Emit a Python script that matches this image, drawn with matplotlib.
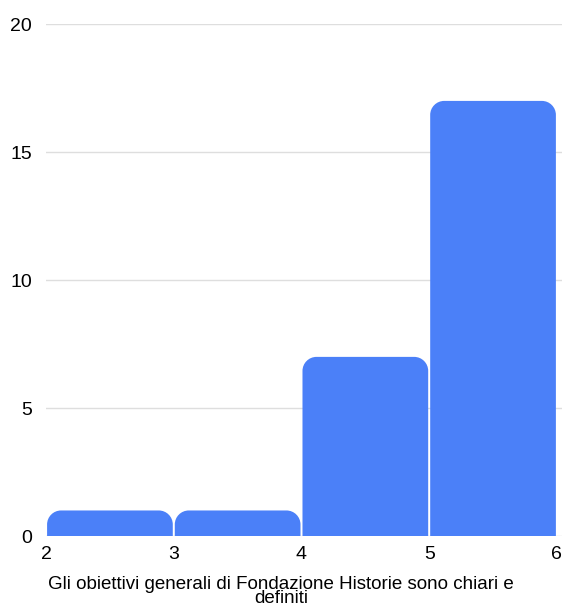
import matplotlib.pyplot as plt
from matplotlib.path import Path
from matplotlib.patches import PathPatch

# bins and counts of the histogram
bin_edges = [2, 3, 4, 5, 6]
counts = [1, 1, 7, 17]
y_ticks = [0, 5, 10, 15, 20]
label = "Gli obiettivi generali di Fondazione Historie sono chiari e\ndefiniti"

plt.rcParams['font.family'] = ['Liberation Sans', 'DejaVu Sans']

fig = plt.figure(figsize=(5.62, 6.03), dpi=100)
ax = fig.add_axes([0.082, 0.111, 0.918, 0.849])
ax.set_xlim(2, 6.04)
ax.set_ylim(0, 20)

blue = '#4B80F8'
# corner radius in pixels, turned into data units on each axis
r_px = 14
px_x = 0.918 * 562 / 4.04
px_y = 0.849 * 603 / 20
rx, ry = r_px / px_x, r_px / px_y
gap = 1.0 / px_x
k = 0.5523


def top_rounded_bar(x0, x1, h):
    verts = [(x0, 0), (x0, h - ry),
             (x0, h - ry + k * ry), (x0 + rx - k * rx, h), (x0 + rx, h),
             (x1 - rx, h),
             (x1 - rx + k * rx, h), (x1, h - ry + k * ry), (x1, h - ry),
             (x1, 0), (x0, 0)]
    codes = [Path.MOVETO, Path.LINETO,
             Path.CURVE4, Path.CURVE4, Path.CURVE4,
             Path.LINETO,
             Path.CURVE4, Path.CURVE4, Path.CURVE4,
             Path.LINETO, Path.CLOSEPOLY]
    return PathPatch(Path(verts, codes), fc=blue, ec='none', zorder=3)


for left, right, h in zip(bin_edges[:-1], bin_edges[1:], counts):
    ax.add_patch(top_rounded_bar(left + gap, right - gap, h))

ax.set_yticks(y_ticks)
ax.set_xticks(bin_edges)
ax.grid(axis='y', color='#dedede', linewidth=1)
ax.grid(axis='x', visible=False)
ax.set_axisbelow(True)
for s in ax.spines.values():
    s.set_visible(False)
ax.tick_params(length=0, labelsize=14, colors='black')
ax.tick_params(axis='y', pad=10)
ax.tick_params(axis='x', pad=7)

fig.text(0.5, 0.019, label, ha='center', va='center', fontsize=13.5, linespacing=0.8)

fig.savefig('out.png', dpi=100)
